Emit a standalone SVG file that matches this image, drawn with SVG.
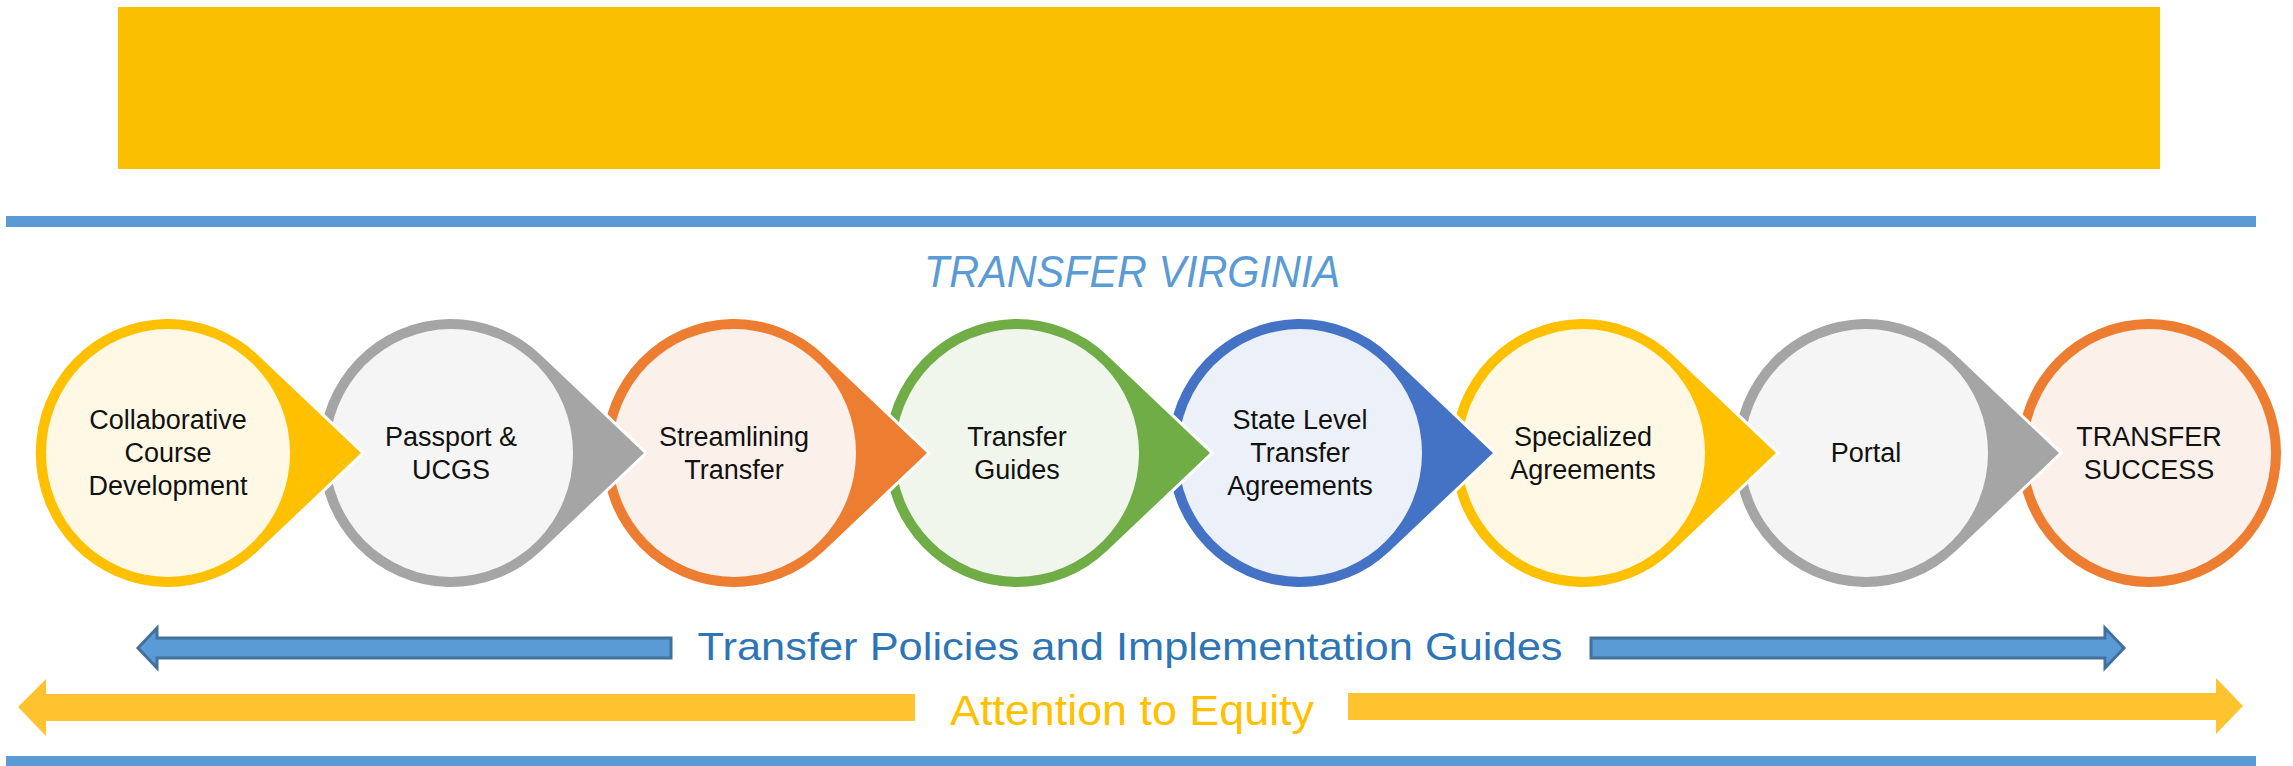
<svg xmlns="http://www.w3.org/2000/svg" width="2293" height="766" viewBox="0 0 2293 766">
<defs>
<style>
.lbl{font-family:"Liberation Sans",Arial,sans-serif;font-size:27px;fill:#111;text-anchor:middle}
.drop{stroke:#fff;stroke-width:6;paint-order:stroke;stroke-linejoin:miter}
.yel{fill:#FFC000}.yelI{fill:#FFF8E5}
.gry{fill:#A5A5A5}.gryI{fill:#F5F5F5}
.org{fill:#ED7D31}.orgI{fill:#FCF0EA}
.grn{fill:#70AD47}.grnI{fill:#F0F6EC}
.blu{fill:#4472C4}.bluI{fill:#ECF0F9}
.barrow{fill:#5B9BD5;stroke:#41719C;stroke-width:3}
.yarrow{fill:#FFC330}
</style>
<path id="tear" d="M193,0 L90.3,-97.5 A132,134 0 1 0 90.3,97.5 Z"/>
</defs>
<rect x="0" y="0" width="2293" height="766" fill="#fff"/>
<g id="banner"><rect x="118" y="7" width="2042" height="162" fill="#FAC000"/></g>
<rect x="6" y="216" width="2250" height="11" fill="#5B9BD5"/>
<rect x="6" y="756" width="2250" height="10" fill="#5B9BD5"/>
<g id="title"><text x="1132" y="287" font-family="Liberation Sans,Arial,sans-serif" font-size="44" font-style="italic" fill="#5B9BD5" text-anchor="middle" textLength="416" lengthAdjust="spacingAndGlyphs">TRANSFER VIRGINIA</text></g>

<g id="node8" transform="translate(2149,453)">
<ellipse rx="132" ry="134" class="org"/><ellipse rx="122" ry="124" class="orgI"/>
<text class="lbl" y="-7">TRANSFER</text><text class="lbl" y="26">SUCCESS</text>
</g>
<g id="node7" transform="translate(1866,453)">
<use href="#tear" class="gry drop"/><ellipse rx="122" ry="124" class="gryI"/>
<text class="lbl" y="9">Portal</text>
</g>
<g id="node6" transform="translate(1583,453)">
<use href="#tear" class="yel drop"/><ellipse rx="122" ry="124" class="yelI"/>
<text class="lbl" y="-7">Specialized</text><text class="lbl" y="26">Agreements</text>
</g>
<g id="node5" transform="translate(1300,453)">
<use href="#tear" class="blu drop"/><ellipse rx="122" ry="124" class="bluI"/>
<text class="lbl" y="-24">State Level</text><text class="lbl" y="9">Transfer</text><text class="lbl" y="42">Agreements</text>
</g>
<g id="node4" transform="translate(1017,453)">
<use href="#tear" class="grn drop"/><ellipse rx="122" ry="124" class="grnI"/>
<text class="lbl" y="-7">Transfer</text><text class="lbl" y="26">Guides</text>
</g>
<g id="node3" transform="translate(734,453)">
<use href="#tear" class="org drop"/><ellipse rx="122" ry="124" class="orgI"/>
<text class="lbl" y="-7">Streamlining</text><text class="lbl" y="26">Transfer</text>
</g>
<g id="node2" transform="translate(451,453)">
<use href="#tear" class="gry drop"/><ellipse rx="122" ry="124" class="gryI"/>
<text class="lbl" y="-7">Passport &amp;</text><text class="lbl" y="26">UCGS</text>
</g>
<g id="node1" transform="translate(168,453)">
<use href="#tear" class="yel drop"/><ellipse rx="122" ry="124" class="yelI"/>
<text class="lbl" y="-24">Collaborative</text><text class="lbl" y="9">Course</text><text class="lbl" y="42">Development</text>
</g>

<g id="connectors">
<polygon class="barrow" points="138,648 157,628 157,638 671,638 671,658 157,658 157,668"/>
<polygon class="barrow" points="2124,648 2105,628 2105,638 1591,638 1591,658 2105,658 2105,668"/>
<polygon class="yarrow" points="18,707 46,679 46,694 915,694 915,721 46,721 46,736"/>
<polygon class="yarrow" points="2243,706 2216,678 2216,693 1348,693 1348,720 2216,720 2216,734"/>
</g>
<g id="policies"><text x="1130" y="660" font-family="Liberation Sans,Arial,sans-serif" font-size="39" fill="#2E75B6" text-anchor="middle" textLength="865" lengthAdjust="spacingAndGlyphs">Transfer Policies and Implementation Guides</text></g>
<g id="equity"><text x="1132" y="725" font-family="Liberation Sans,Arial,sans-serif" font-size="42" fill="#FFC000" text-anchor="middle" textLength="364" lengthAdjust="spacingAndGlyphs">Attention to Equity</text></g>
</svg>
